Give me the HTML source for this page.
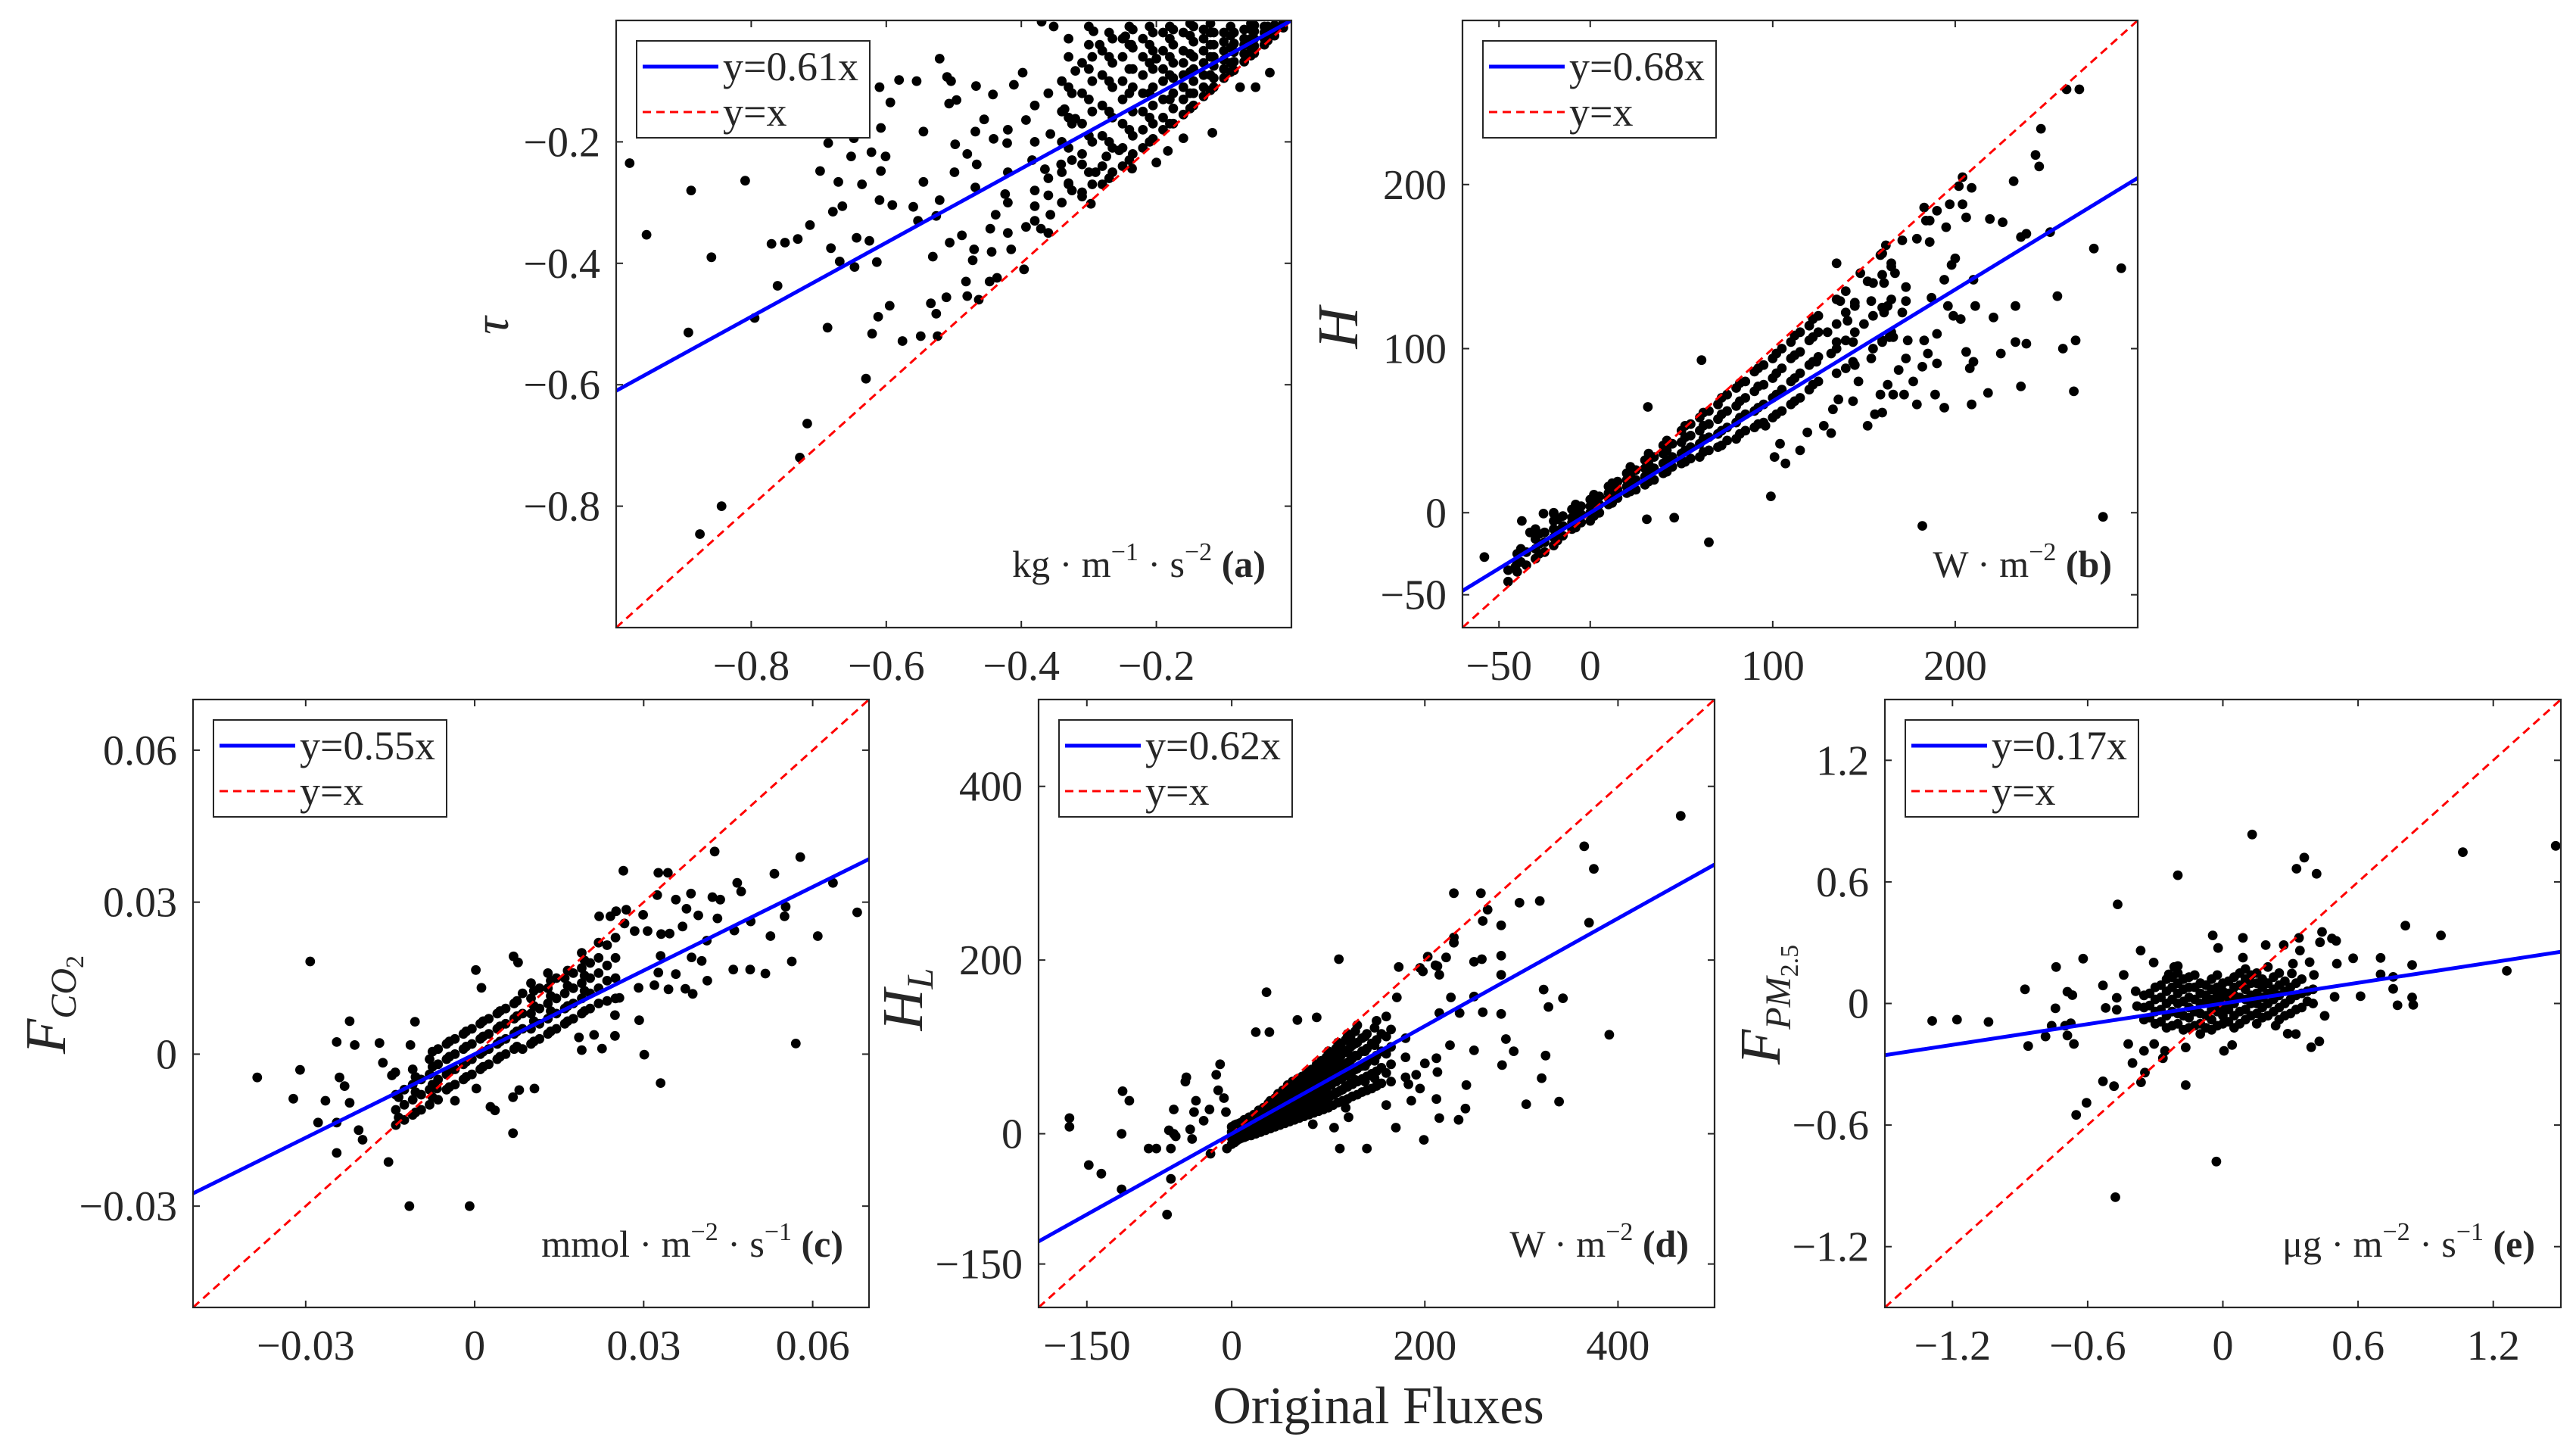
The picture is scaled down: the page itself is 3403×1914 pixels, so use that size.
<!DOCTYPE html>
<html><head><meta charset="utf-8">
<style>
html,body{margin:0;padding:0;background:#fff;}
svg{display:block;}
svg text{font-family:"Liberation Serif","DejaVu Serif",serif;fill:#262626;}
</style></head>
<body>
<svg id="fig" xmlns="http://www.w3.org/2000/svg" width="3403" height="1914" viewBox="0 0 3403 1914" font-family="Liberation Serif, DejaVu Serif, serif">
<rect width="3403" height="1914" fill="#fff"/>
<text x="1821" y="1880" font-size="70" text-anchor="middle" font-family="Liberation Serif, DejaVu Serif, serif">Original Fluxes</text>
</svg>
<script>
// ---------- Panel (a) : tau ----------
const slopeA = 0.61;
const ticksA = [-0.8, -0.6, -0.4, -0.2];
const tickLabelsA = ["−0.8", "−0.6", "−0.4", "−0.2"];
const pointsA = [[-0.98,-0.235],[-0.889,-0.28],[-0.955,-0.353],[-0.859,-0.39],[-0.809,-0.264],[-0.893,-0.514],[-0.795,-0.49],[-0.761,-0.437],[-0.844,-0.80],[-0.876,-0.846],[-0.728,-0.72],[-0.717,-0.664],[-0.63,-0.59],[-0.687,-0.506],[-0.621,-0.516],[-0.612,-0.488],[-0.595,-0.47],[-0.576,-0.528],[-0.549,-0.52],[-0.524,-0.52],[-0.526,-0.483],[-0.534,-0.466],[-0.511,-0.456],[-0.48,-0.454],[-0.463,-0.46],[-0.447,-0.43],[-0.436,-0.424],[-0.396,-0.41],[-0.531,-0.389],[-0.482,-0.43],[-0.472,-0.395],[-0.444,-0.381],[-0.698,-0.248],[-0.671,-0.266],[-0.713,-0.337],[-0.731,-0.36],[-0.75,-0.366],[-0.77,-0.368],[-0.682,-0.375],[-0.665,-0.306],[-0.679,-0.315],[-0.644,-0.358],[-0.647,-0.406],[-0.669,-0.397],[-0.614,-0.398],[-0.625,-0.363],[-0.636,-0.27],[-0.61,-0.296],[-0.591,-0.304],[-0.608,-0.248],[-0.601,-0.224],[-0.622,-0.217],[-0.652,-0.224],[-0.648,-0.194],[-0.686,-0.202],[-0.608,-0.177],[-0.594,-0.135],[-0.61,-0.11],[-0.581,-0.098],[-0.555,-0.1],[-0.545,-0.183],[-0.521,-0.063],[-0.51,-0.093],[-0.504,-0.1],[-0.467,-0.108],[-0.507,-0.137],[-0.496,-0.131],[-0.442,-0.122],[-0.411,-0.106],[-0.398,-0.086],[-0.37,-0.002],[-0.352,-0.01],[-0.293,-0.018],[-0.284,-0.04],[-0.553,-0.33],[-0.526,-0.322],[-0.521,-0.296],[-0.545,-0.266],[-0.56,-0.307],[-0.499,-0.25],[-0.498,-0.204],[-0.48,-0.22],[-0.468,-0.275],[-0.466,-0.237],[-0.455,-0.163],[-0.468,-0.183],[-0.441,-0.195],[-0.421,-0.202],[-0.424,-0.286],[-0.438,-0.32],[-0.446,-0.343],[-0.47,-0.377],[-0.506,-0.366],[-0.488,-0.354],[-0.415,-0.377],[-0.393,-0.34],[-0.38,-0.306],[-0.371,-0.343],[-0.36,-0.288],[-0.357,-0.32],[-0.33,-0.268],[-0.31,-0.283],[-0.297,-0.302],[-0.365,-0.245],[-0.384,-0.23],[-0.393,-0.164],[-0.357,-0.187],[-0.336,-0.146],[-0.32,-0.162],[-0.341,-0.237],[-0.31,-0.237],[-0.29,-0.25],[-0.274,-0.224],[-0.32,-0.083],[-0.237,-0.04],[-0.246,-0.026],[-0.2,-0.063],[-0.117,-0.185],[-0.16,-0.194],[-0.183,-0.215],[-0.2,-0.234],[-0.236,-0.244],[-0.255,-0.214],[-0.076,-0.11],[-0.053,-0.11],[-0.032,-0.086]];
const coreA = [[-0.34,[-0.30,-0.25,-0.2,-0.15,-0.1]],[-0.325,[-0.28,-0.23,-0.17,-0.12]],[-0.31,[-0.29,-0.22,-0.17,-0.12,-0.07]],[-0.295,[-0.27,-0.2,-0.15,-0.1,-0.06]],[-0.28,[-0.27,-0.24,-0.19,-0.14,-0.09,-0.05]],[-0.265,[-0.25,-0.21,-0.16,-0.11,-0.07,-0.03]],[-0.25,[-0.24,-0.21,-0.17,-0.13,-0.1,-0.06,-0.03]],[-0.235,[-0.22,-0.19,-0.15,-0.11,-0.08,-0.045,-0.015]],[-0.22,[-0.21,-0.18,-0.15,-0.12,-0.09,-0.06,-0.03]],[-0.205,[-0.195,-0.17,-0.14,-0.11,-0.08,-0.05,-0.02]],[-0.19,[-0.18,-0.16,-0.13,-0.10,-0.08,-0.05,-0.02]],[-0.175,[-0.17,-0.145,-0.12,-0.095,-0.07,-0.04,-0.015]],[-0.16,[-0.155,-0.13,-0.11,-0.09,-0.07,-0.05,-0.02]],[-0.145,[-0.14,-0.12,-0.1,-0.08,-0.06,-0.035,-0.01]],[-0.13,[-0.125,-0.11,-0.09,-0.07,-0.05,-0.03,-0.015]],[-0.115,[-0.11,-0.095,-0.075,-0.06,-0.04,-0.02]],[-0.10,[-0.095,-0.08,-0.065,-0.05,-0.035,-0.02]],[-0.085,[-0.082,-0.068,-0.052,-0.038,-0.02]],[-0.07,[-0.068,-0.055,-0.04,-0.03,-0.015]],[-0.055,[-0.054,-0.042,-0.03,-0.018,-0.008]],[-0.04,[-0.04,-0.03,-0.02,-0.01]],[-0.025,[-0.025,-0.016,-0.008]],[-0.012,[-0.012,-0.006,-0.002]]];
const coreA2 = [[-0.33,[-0.27,-0.21,-0.16,-0.11,-0.06,-0.03]],[-0.3,[-0.25,-0.19,-0.13,-0.08,-0.04,-0.01]],[-0.27,[-0.26,-0.2,-0.15,-0.1,-0.06,-0.02]],[-0.24,[-0.23,-0.18,-0.12,-0.08,-0.04,-0.01]],[-0.21,[-0.2,-0.16,-0.12,-0.07,-0.04,-0.01]],[-0.18,[-0.17,-0.13,-0.09,-0.06,-0.03,-0.01]],[-0.15,[-0.145,-0.12,-0.085,-0.055,-0.025,-0.005]],[-0.12,[-0.115,-0.09,-0.06,-0.04,-0.02,-0.005]],[-0.09,[-0.085,-0.07,-0.045,-0.025,-0.01]],[-0.06,[-0.058,-0.045,-0.03,-0.015,-0.005]],[-0.035,[-0.033,-0.02,-0.01]],[-0.38,[-0.33,-0.28,-0.2,-0.14]],[-0.42,[-0.35,-0.3,-0.25,-0.18]],[-0.36,[-0.35,-0.26,-0.12]]];

// ---------- Panel (b) : H ----------
const slopeB = 0.68;
const ticksB = [-50, 0, 100, 200];
const tickLabelsB = ["−50", "0", "100", "200"];
const pointsB = [[261,258],[268,258],[247,234],[244,218],[246,211],[232,202],[204,204.5],[202,199],[209,198],[204,188],[206,180],[197,188],[183,186],[190,184],[184,178],[186,178],[195,174],[219,179],[226,177],[236,168],[239,170],[252,171],[276,161],[291,149],[256,132],[233,126],[221,119],[211,126],[210,142],[200,155],[198,151],[194,142],[187,131],[196,126],[199,120],[203,118],[190,109],[183,105],[185,97],[182,89],[190,91],[206,98],[210,92],[208,88],[225,97],[233,104],[239,103],[259,100],[266,105],[265,74],[236,77],[218,73],[209,66],[189,72],[194,64],[179,66],[172,72],[166,72],[159,72],[156,60],[160,61],[152,53],[177,80],[169,87],[173,94],[163,78],[154,94],[144,92],[147,80],[144,68],[136,69],[133,63],[132,48.5],[128,53],[119,49],[115,38],[107,30],[101,34],[104,42],[96,53],[99,10],[182,-8],[281,-2.5],[65,-18],[61,93],[31.6,64.5],[-58,-27],[-37.5,-5],[-33,-12],[-41,-33],[-25.6,-0.5],[-20,-0.5],[46,-3],[31,-4],[173,137.5],[173,129],[171,122],[161,122],[164,107],[160,105],[166,107],[174,105],[150,115],[144,104],[141,117],[135,104],[130,110],[132,97],[124,92],[135,152],[162,163],[159,157],[171,166],[179,167],[186,165],[165,152],[167,146],[161,140],[163,126],[152,141],[148,146],[154,129],[145,126],[137,129]];
const coreB = [[-40,[-36,-30,-25]],[-35,[-32,-24]],[-30,[-28,-22,-16,-10]],[-25,[-24,-18,-12]],[-20,[-20,-15,-10,-5,0]],[-15,[-14,-8,-2]],[-10,[-10,-6,-3,2]],[-5,[-6,-1,4]],[0,[-5,0,4,8]],[5,[0,5,10]],[10,[5,9,12,16]],[15,[9,14,19]],[20,[12,16,20,24]],[25,[14,20,26]],[30,[17,22,27,32]],[35,[20,27,34]],[40,[24,30,36,41]],[45,[28,34,42]],[50,[30,36,43,50]],[55,[33,40,47,54]],[60,[34,42,50,58]],[65,[38,46,54,62]],[70,[40,48,57,66]],[75,[44,52,62,72]],[80,[45,55,65,76]],[85,[50,60,70,80]],[90,[52,62,74,86]],[95,[55,66,78,90]],[100,[58,70,82,94]],[105,[62,75,88,100]],[110,[66,80,94,104]],[115,[70,85,98,110]],[120,[75,90,105,114]],[125,[80,95,110,120]],[135,[85,100,115,130]],[145,[90,110,128]],[155,[100,120,140]],[165,[110,130,150]]];
const coreB2 = [[-45,[-42,-35]],[-38,[-30,-22]],[-28,[-25,-19,-13]],[-18,[-17,-11,-4]],[-8,[-9,-4,0,5]],[2,[-2,2,7,11]],[12,[6,10,14,18]],[22,[13,18,23,28]],[32,[19,25,30,36]],[42,[25,32,38,44]],[52,[31,38,46,53]],[62,[37,45,53,61]],[72,[41,50,60,70]],[82,[48,58,68,79]],[92,[54,64,77,88]],[102,[60,72,85,97]],[112,[68,82,96,108]],[122,[78,92,107,118]],[140,[88,105,122,135]],[160,[104,125,145,158]]];

// ---------- Panel (c) : F_CO2 ----------
const slopeC = 0.55;
const ticksC = [-0.03, 0, 0.03, 0.06];
const tickLabelsC = ["−0.03", "0", "0.03", "0.06"];
const pointsC = [[-0.0292,0.0183],[-0.0386,-0.0046],[-0.0322,-0.0088],[-0.031,-0.0031],[-0.0245,0.0024],[-0.0222,0.0065],[-0.0213,0.0018],[-0.0169,0.0022],[-0.024,-0.0046],[-0.0231,-0.0063],[-0.0222,-0.0096],[-0.0265,-0.0092],[-0.0278,-0.0135],[-0.0245,-0.0135],[-0.0245,-0.0195],[-0.0206,-0.015],[-0.0199,-0.0169],[-0.0153,-0.0213],[-0.0116,-0.03],[-0.0009,-0.03],[0.0068,-0.0156],[0.0106,-0.0068],[0.0301,-0.0001],[0.033,-0.0057],[0.057,0.0021],[0.0292,0.0067],[0.0426,0.04],[0.0578,0.0389],[0.0636,0.0338],[0.0679,0.028],[0.0609,0.0233],[0.0532,0.0356],[0.0466,0.0338],[0.0473,0.0321],[0.0552,0.0291],[0.055,0.0272],[0.0563,0.0183],[0.0525,0.0233],[0.049,0.0262],[0.0461,0.0244],[0.0459,0.0167],[0.0489,0.0167],[0.0516,0.0159],[0.0264,0.0362],[0.0326,0.0358],[0.0343,0.0358],[0.0324,0.0314],[0.0357,0.0305],[0.0384,0.0317],[0.0422,0.031],[0.0436,0.0305],[0.0431,0.0268],[0.0397,0.0274],[0.0376,0.0287],[0.0269,0.0285],[0.0299,0.0275],[0.0221,0.0272],[0.0241,0.0272],[0.0251,0.0282],[0.0266,0.0258],[0.0284,0.0243],[0.0307,0.0243],[0.0331,0.0237],[0.0346,0.0238],[0.0369,0.0252],[0.0403,0.0184],[0.0385,0.0191],[0.0412,0.0224],[0.033,0.0194],[0.0326,0.0161],[0.0357,0.0158],[0.0374,0.0129],[0.0387,0.0119],[0.0344,0.0128],[0.0319,0.0136],[0.0291,0.0131],[0.0413,0.0145],[0.0257,0.0111],[0.0249,0.0077],[0.0226,0.0011],[0.019,0.0008],[0.0249,0.0036],[0.0212,0.0038],[0.0185,0.0033],[0.0069,0.0193],[0.0077,0.0181],[0.0002,0.0166],[0.0012,0.0131],[-0.0106,0.0064],[-0.0114,0.0018],[0.0036,-0.0111],[0.0028,-0.0104],[0.0068,-0.0085],[0.0079,-0.0071],[0.0003,-0.0068],[-0.0067,-0.0068],[-0.0035,-0.0092],[-0.0147,-0.0042],[-0.0163,-0.0017],[-0.0141,-0.0036]];
const coreC = [[-0.014,[-0.014,-0.011,-0.008]],[-0.0125,[-0.013,-0.01,-0.007]],[-0.011,[-0.012,-0.009,-0.006,-0.003]],[-0.0095,[-0.011,-0.008,-0.005]],[-0.008,[-0.01,-0.007,-0.004,-0.001]],[-0.0065,[-0.009,-0.005,-0.002,0.001]],[-0.005,[-0.007,-0.004,-0.001,0.002]],[-0.0035,[-0.006,-0.003,0,0.003]],[-0.002,[-0.005,-0.002,0.001,0.004]],[-0.0005,[-0.004,-0.001,0.002,0.005]],[0.001,[-0.003,0,0.003,0.006]],[0.0025,[-0.002,0.001,0.004,0.007]],[0.004,[-0.001,0.002,0.005,0.008]],[0.0055,[0,0.003,0.006,0.009]],[0.007,[0.001,0.004,0.007,0.01]],[0.0085,[0.001,0.005,0.008,0.012]],[0.010,[0.002,0.005,0.008,0.011,0.014]],[0.0115,[0.003,0.006,0.009,0.013]],[0.013,[0.004,0.007,0.01,0.013,0.016]],[0.0145,[0.005,0.008,0.011,0.015]],[0.016,[0.006,0.009,0.012,0.015]],[0.0175,[0.007,0.01,0.013,0.016]],[0.019,[0.008,0.011,0.014,0.017,0.02]],[0.0205,[0.009,0.012,0.015,0.018]],[0.022,[0.01,0.013,0.016,0.019,0.022]],[0.025,[0.011,0.015,0.019,0.023]]];
const coreC2 = [[-0.0135,[-0.0125,-0.0085]],[-0.0105,[-0.0115,-0.0075,-0.0045]],[-0.0075,[-0.0085,-0.006,-0.0025,0.0005]],[-0.0045,[-0.0065,-0.0035,-0.0005,0.0025]],[-0.0015,[-0.0045,-0.0015,0.0015,0.0045]],[0.0015,[-0.0025,0.0005,0.0035,0.0065]],[0.0045,[-0.0005,0.0025,0.0055,0.0085]],[0.0075,[0.0015,0.0045,0.0075,0.0105]],[0.0105,[0.0025,0.0065,0.0095,0.0125]],[0.0135,[0.0045,0.0085,0.0115,0.0145]],[0.0165,[0.0065,0.0095,0.0135,0.0165]],[0.0195,[0.0085,0.0125,0.0155,0.0185]],[0.0235,[0.0105,0.0145,0.0175,0.0215]]];

// ---------- Panel (d) : H_L ----------
const slopeD = 0.62;
const ticksD = [-150, 0, 200, 400];
const tickLabelsD = ["−150", "0", "200", "400"];
const pointsD = [[465,366],[365,331],[375,305],[370,243],[391,114],[339,37],[305,34],[321,64],[325,90],[328,146],[323,166],[343,156],[319,268],[298,266],[292,95],[284,109],[280,79],[279,138],[279,183],[279,205],[279,240],[265,258],[260,245],[258,277],[259,201],[251,198],[260,140],[251,96],[243,56],[242,29],[235,16],[215,18],[230,277],[230,226],[230,220],[222,203],[211,194],[215,183],[213,193],[203,204],[198,187],[195,191],[199,-7],[170,7],[173,192],[171,157],[215,139],[227,157],[251,158],[236,139],[226,102],[212,87],[212,40],[213,71],[195,52],[186,38],[183,57],[191,68],[200,81],[160,33],[140,-17],[112,-17],[111,201],[121,19],[118,30],[106,7],[84,11],[36,163],[25,117],[39,117],[68,131],[88,134],[-12,80],[-16,68],[-47,65],[-48,60],[-60,28],[-113,49],[-106,38],[-114,0],[-168,18],[-168,8],[-148,-36],[-135,-46],[-114,-64],[-67,-93],[-63,-52],[-86,-17],[-78,-17],[-63,-17],[-65,4],[-60,0],[-58,-3],[-41,-6],[-43,5],[-39,25],[-29,15],[-23,28],[-37,38],[-22,-23],[-5,-17],[-14,50],[-8,41],[-6,25]];
const coreD = [[0,[-12,-5,2,8]],[5,[-8,-1,5,11]],[10,[-5,1,7,13]],[15,[-3,3,9,15]],[20,[-2,5,12,18]],[25,[0,7,14,21]],[30,[2,10,17,25]],[35,[4,12,20,28]],[40,[6,14,22,30,38]],[45,[8,16,25,33,41]],[50,[10,18,27,36,44]],[55,[12,21,30,39,48]],[60,[14,23,32,42,52]],[65,[16,26,35,45,55]],[70,[18,28,38,48,58]],[75,[20,30,41,52,62]],[80,[22,33,44,55,66]],[85,[24,36,47,58,70]],[90,[26,38,50,62,74]],[95,[28,40,53,65,78]],[100,[30,42,55,68,80,95]],[105,[33,45,59,73,86]],[110,[36,48,62,76,90,105]],[115,[38,51,65,80,94]],[120,[40,54,68,82,96,115]],[125,[43,57,72,87,102]],[130,[45,60,75,90,105,125]],[135,[48,63,78,95,110]],[140,[50,66,82,98,115]],[145,[52,69,86,104]],[150,[55,72,90,108,130]],[155,[58,76,95,115]],[165,[60,80,100,120]],[180,[65,88,110]]];
const coreD2 = [[3,[-10,-2,4,10]],[8,[-6,0,6,12]],[13,[-4,4,10,16]],[18,[-1,6,13,19]],[23,[1,8,16,22]],[28,[3,11,19,27]],[33,[5,13,22,30]],[38,[8,17,26,35]],[43,[10,20,29,37]],[48,[13,22,31,40,46]],[53,[16,25,35,44,50]],[58,[19,29,37,47,56]],[63,[22,31,41,50,60]],[68,[25,35,44,53,63]],[73,[27,37,47,57,66]],[78,[30,40,50,61,71]],[83,[32,43,54,64,74]],[88,[35,46,57,68,80]],[93,[37,49,60,72,84]],[98,[40,52,64,76,88]],[103,[44,56,69,82,92]],[108,[47,60,73,86,98]],[113,[50,63,77,90,102]],[118,[55,67,80,94,108]],[123,[58,70,85,100,112]],[128,[62,74,90,104,118]],[138,[60,78,95,112]],[148,[64,84,102,122]],[160,[70,92,112,135]]];

// ---------- Panel (e) : F_PM2.5 ----------
const slopeE = 0.17;
const ticksE = [-1.2, -0.6, 0, 0.6, 1.2];
const tickLabelsE = ["−1.2", "−0.6", "0", "0.6", "1.2"];
const pointsE = [[-1.29,-0.086],[-1.18,-0.08],[-1.04,-0.091],[-0.878,0.07],[-0.864,-0.21],[-0.787,-0.163],[-0.76,-0.11],[-0.743,-0.024],[-0.74,0.18],[-0.69,0.058],[-0.668,0.041],[-0.675,-0.098],[-0.69,-0.158],[-0.661,-0.2],[-0.7,-0.11],[-0.62,0.221],[-0.532,0.089],[-0.52,-0.022],[-0.471,0.028],[-0.471,-0.031],[-0.467,0.489],[-0.44,0.141],[-0.387,0.06],[-0.365,0.261],[-0.307,0.202],[-0.42,-0.2],[-0.401,-0.294],[-0.35,-0.234],[-0.363,-0.389],[-0.346,-0.341],[-0.532,-0.384],[-0.483,-0.408],[-0.605,-0.49],[-0.651,-0.55],[-0.477,-0.956],[-0.029,-0.78],[-0.2,0.633],[0.13,0.834],[0.361,0.72],[0.327,0.665],[0.416,0.64],[1.065,0.747],[1.477,0.778],[1.26,0.161],[0.968,0.336],[0.81,0.384],[0.7,0.225],[0.7,0.144],[0.756,0.131],[0.756,0.072],[0.775,-0.009],[0.84,0.19],[0.84,0.03],[0.845,-0.007],[0.611,0.036],[0.578,0.223],[0.503,0.309],[0.484,0.321],[0.44,0.353],[0.431,0.302],[0.506,0.196],[0.496,0.033],[0.452,-0.061],[0.428,-0.187],[0.392,-0.216],[0.404,0.141],[0.385,0.204],[0.324,-0.151],[0.288,-0.149],[0.234,-0.11],[0.089,0.324],[0.19,0.288],[0.27,0.288],[0.338,0.324],[0.342,0.261],[0.311,0.196],[0.306,0.148],[-0.045,0.336],[-0.021,0.274],[0.089,0.226],[0.041,-0.205],[0.005,-0.234],[-0.165,-0.217],[-0.165,-0.403],[-0.257,-0.234],[-0.266,-0.27],[-0.305,-0.2],[-0.216,0.18],[-0.2,0.185],[-0.24,0.144],[-0.381,-0.013]];
const coreE = [[-0.35,[-0.08,-0.02,0.04]],[-0.3,[-0.1,-0.04,0.02,0.08]],[-0.25,[-0.12,-0.06,0,0.06,0.12]],[-0.2,[-0.1,-0.05,0,0.05,0.1,0.15]],[-0.15,[-0.12,-0.07,-0.02,0.03,0.08,0.13]],[-0.1,[-0.15,-0.1,-0.05,0,0.05,0.1]],[-0.05,[-0.13,-0.08,-0.03,0.02,0.07,0.12]],[0,[-0.1,-0.06,-0.02,0.02,0.06,0.1]],[0.05,[-0.12,-0.06,0,0.04,0.08,0.13]],[0.1,[-0.08,-0.03,0.02,0.07,0.12,0.17]],[0.15,[-0.1,-0.05,0,0.05,0.1,0.15]],[0.2,[-0.06,0,0.05,0.1,0.18]],[0.25,[-0.08,-0.02,0.04,0.09,0.15]],[0.3,[-0.05,0.02,0.08]],[0.35,[-0.02,0.05,0.12]],[0.4,[0,0.07]]];
const coreE2 = [[-0.325,[-0.07,-0.01,0.05]],[-0.275,[-0.09,-0.03,0.03,0.09]],[-0.225,[-0.11,-0.04,0.02,0.08,0.13]],[-0.175,[-0.13,-0.06,0.01,0.07,0.12]],[-0.125,[-0.11,-0.04,0.02,0.08,0.14]],[-0.075,[-0.12,-0.06,0.01,0.04,0.09]],[-0.025,[-0.11,-0.04,0,0.04,0.08,0.14]],[0.025,[-0.09,-0.03,0.01,0.05,0.11]],[0.075,[-0.1,-0.04,0.03,0.09,0.15]],[0.125,[-0.06,0,0.04,0.1,0.14]],[0.175,[-0.07,-0.02,0.03,0.08,0.12]],[0.225,[-0.04,0.02,0.07,0.13]],[0.275,[-0.06,0,0.06,0.11]],[0.325,[-0.03,0.04,0.1]],[0.375,[0.01,0.06]]];

const NS = "http://www.w3.org/2000/svg";
const FONT = "Liberation Serif, DejaVu Serif, serif";
const svg = document.getElementById('fig');
function mk(tag, attrs, parent) {
  const e = document.createElementNS(NS, tag);
  for (const k in attrs) e.setAttribute(k, attrs[k]);
  if (tag === 'text') e.setAttribute('font-family', FONT);
  (parent || svg).appendChild(e);
  return e;
}

const panels = [
  {id:'a', L:814, T:27, R:1706, B:829, dom:[-1,0], slope:slopeA, ticks:ticksA, labels:tickLabelsA, pts:pointsA, core:coreA.concat(coreA2), leg:"y=0.61x", ylab:[645,430], ylabel:'tau'},
  {id:'b', L:1932, T:27, R:2824, B:829, dom:[-70,300], slope:slopeB, ticks:ticksB, labels:tickLabelsB, pts:pointsB, core:coreB.concat(coreB2), leg:"y=0.68x", ylab:[1767,433], ylabel:'H'},
  {id:'c', L:255, T:924, R:1148, B:1727, dom:[-0.05,0.07], slope:slopeC, ticks:ticksC, labels:tickLabelsC, pts:pointsC, core:coreC.concat(coreC2), leg:"y=0.55x", ylab:[60,1327], ylabel:'FCO2'},
  {id:'d', L:1372, T:924, R:2265, B:1727, dom:[-200,500], slope:slopeD, ticks:ticksD, labels:tickLabelsD, pts:pointsD, core:coreD.concat(coreD2), leg:"y=0.62x", ylab:[1192,1320], ylabel:'HL'},
  {id:'e', L:2490, T:924, R:3383, B:1727, dom:[-1.5,1.5], slope:slopeE, ticks:ticksE, labels:tickLabelsE, pts:pointsE, core:coreE.concat(coreE2), leg:"y=0.17x", ylab:[2325,1327], ylabel:'FPM'}
];

const units = {
  a: [["kg · m",0],["−1",1],[" · s",0],["−2",1]],
  b: [["W · m",0],["−2",1]],
  c: [["mmol · m",0],["−2",1],[" · s",0],["−1",1]],
  d: [["W · m",0],["−2",1]],
  e: [["μg · m",0],["−2",1],[" · s",0],["−1",1]]
};

panels.forEach(p => {
  const sx = v => p.L + (v - p.dom[0]) / (p.dom[1] - p.dom[0]) * (p.R - p.L);
  const sy = v => p.B - (v - p.dom[0]) / (p.dom[1] - p.dom[0]) * (p.B - p.T);
  const g = mk('g', {});
  
  
  const cp = mk('clipPath', {id:'clip-' + p.id}, g);
  mk('rect', {x:p.L, y:p.T, width:p.R - p.L, height:p.B - p.T}, cp);

  const pg = mk('g', {'clip-path':'url(#clip-' + p.id + ')'}, g);
  
  
  const all = p.pts.slice();
  p.core.forEach(c => c[1].forEach(yv => all.push([c[0], yv])));
  all.forEach(pt => {
    const c = mk('circle', {cx:sx(pt[0]).toFixed(1), cy:sy(pt[1]).toFixed(1), r:6.4, fill:'#000'}, pg);
    
    
  });
  const rl = mk('line', {x1:sx(p.dom[0]), y1:sy(p.dom[0]), x2:sx(p.dom[1]), y2:sy(p.dom[1]), stroke:'#ff0000', 'stroke-width':3, 'stroke-dasharray':'11 7'}, pg);
  
  
  const bl = mk('line', {x1:sx(p.dom[0]), y1:sy(p.slope * p.dom[0]), x2:sx(p.dom[1]), y2:sy(p.slope * p.dom[1]), stroke:'#0000ff', 'stroke-width':5}, pg);
  
  

  const box = mk('rect', {x:p.L, y:p.T, width:p.R - p.L, height:p.B - p.T, fill:'none', stroke:'#262626', 'stroke-width':2.2}, g);
  
  

  p.ticks.forEach((t, i) => {
    const x = sx(t), y = sy(t);
    mk('line', {x1:x, y1:p.B, x2:x, y2:p.B - 9, stroke:'#262626', 'stroke-width':2}, g);
    mk('line', {x1:x, y1:p.T, x2:x, y2:p.T + 9, stroke:'#262626', 'stroke-width':2}, g);
    mk('line', {x1:p.L, y1:y, x2:p.L + 9, y2:y, stroke:'#262626', 'stroke-width':2}, g);
    mk('line', {x1:p.R, y1:y, x2:p.R - 9, y2:y, stroke:'#262626', 'stroke-width':2}, g);
    const xt = mk('text', {x:x, y:p.B + 69, 'font-size':56, 'text-anchor':'middle'}, g);
    xt.textContent = p.labels[i];
    
    
    const yt = mk('text', {x:p.L - 21, y:y + 19, 'font-size':56, 'text-anchor':'end'}, g);
    yt.textContent = p.labels[i];
    
    
  });

  const lx = p.L + 27, ly = p.T + 27;
  const lg = mk('g', {}, g);
  
  
  mk('rect', {x:lx, y:ly, width:308, height:128, fill:'#fff', stroke:'#262626', 'stroke-width':2}, lg);
  mk('line', {x1:lx + 8, y1:ly + 34, x2:lx + 108, y2:ly + 34, stroke:'#0000ff', 'stroke-width':5}, lg);
  mk('line', {x1:lx + 8, y1:ly + 94, x2:lx + 108, y2:ly + 94, stroke:'#ff0000', 'stroke-width':3, 'stroke-dasharray':'11 7'}, lg);
  const t1 = mk('text', {x:lx + 114, y:ly + 52, 'font-size':54}, lg);
  t1.textContent = p.leg;
  
  
  const t2 = mk('text', {x:lx + 114, y:ly + 112, 'font-size':54}, lg);
  t2.textContent = "y=x";
  
  

  const ut = mk('text', {x:p.R - 34, y:p.B - 67, 'font-size':50, 'text-anchor':'end'}, g);
  
  
  units[p.id].forEach(seg => {
    const ts = mk('tspan', {}, ut);
    if (seg[1]) { ts.setAttribute('dy', -22); ts.setAttribute('font-size', 34); }
    else if (ut.childNodes.length > 1) { ts.setAttribute('dy', 22); }
    ts.textContent = seg[0];
  });
  const last = units[p.id][units[p.id].length - 1];
  const tb = mk('tspan', {'font-weight':'bold', dy: last[1] ? 22 : 0}, ut);
  tb.textContent = " (" + p.id + ")";

  const yl = mk('text', {transform:'translate(' + p.ylab[0] + ',' + p.ylab[1] + ') rotate(-90)', 'font-size':76, 'font-style':'italic', 'text-anchor':'middle', y:26}, g);
  
  
  if (p.ylabel === 'tau') { yl.textContent = 'τ'; yl.setAttribute('font-size', 66); }
  else if (p.ylabel === 'H') { yl.textContent = 'H'; }
  else if (p.ylabel === 'HL') {
    const a = mk('tspan', {}, yl); a.textContent = 'H';
    const b = mk('tspan', {dy:14, 'font-size':50}, yl); b.textContent = 'L';
  } else if (p.ylabel === 'FCO2') {
    const a = mk('tspan', {}, yl); a.textContent = 'F';
    const b = mk('tspan', {dy:14, 'font-size':48}, yl); b.textContent = 'CO';
    const c = mk('tspan', {dy:10, 'font-size':34, 'font-style':'normal'}, yl); c.textContent = '2';
  } else if (p.ylabel === 'FPM') {
    const a = mk('tspan', {}, yl); a.textContent = 'F';
    const b = mk('tspan', {dy:14, 'font-size':48}, yl); b.textContent = 'PM';
    const c = mk('tspan', {dy:10, 'font-size':34, 'font-style':'normal'}, yl); c.textContent = '2.5';
  }
});
</script>
</body></html>
